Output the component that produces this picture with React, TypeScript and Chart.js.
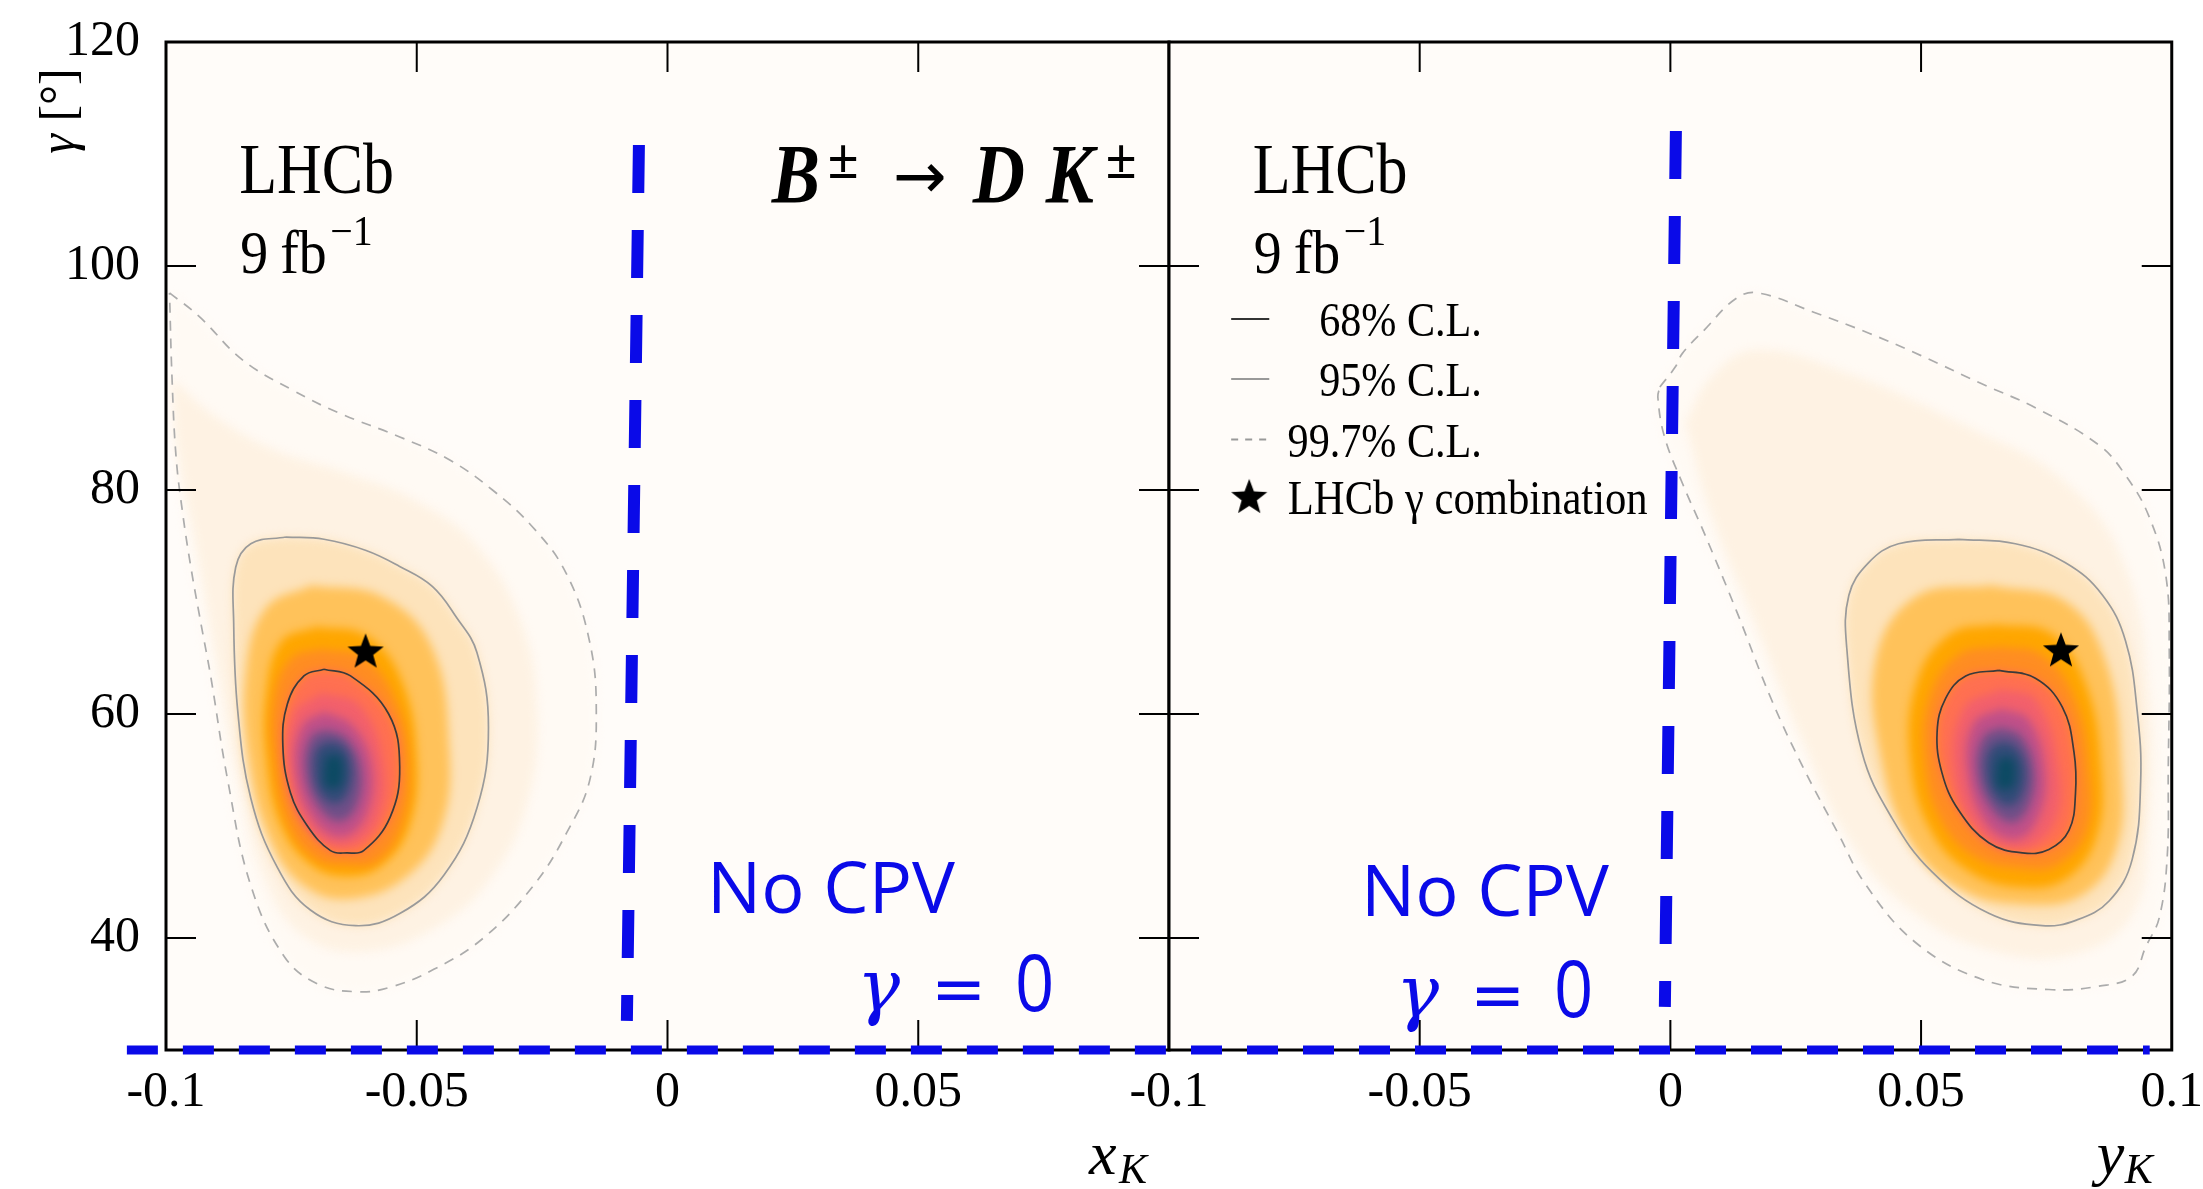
import React, { useEffect, useRef } from 'react';
import { Chart, registerables } from 'chart.js';

Chart.register(...registerables);

type Pt = [number, number];

// ---------------- data ----------------
const X_MIN = -0.1;
const X_MAX = 0.1;
const Y_MIN = 30;
const Y_MAX = 120;
const Y_TICKS = [40, 60, 80, 100, 120];
const X_TICKS_LEFT = [-0.1, -0.05, 0, 0.05];
const X_TICKS_RIGHT = [-0.1, -0.05, 0, 0.05, 0.1];
const INNER_X_TICKS = [-0.05, 0, 0.05];
const INNER_Y_TICKS = [40, 60, 80, 100];

// LHCb gamma combination (star)
const STAR_XK: Pt = [-0.0602, 65.5];
const STAR_YK: Pt = [0.0779, 65.6];

// "No CPV" / gamma = 0 reference lines
const NOCPV_XK: Pt[] = [[-0.0057, 110.8], [-0.0081, 32.6]];
const NOCPV_YK: Pt[] = [[0.0011, 112.05], [-0.0011, 33.85]];
const GAMMA0_XK: Pt[] = [[-0.1078, 30], [0.1, 30]];
const GAMMA0_YK: Pt[] = [[-0.1, 30], [0.0956, 30]];

// ---- x_K panel contours ----
const XK_CL997: Pt[] = [
  [-0.0993, 97.6], [-0.0934, 95.5], [-0.0847, 91.6], [-0.0747, 88.9], [-0.0654, 86.85], [-0.0535, 84.76],
  [-0.0435, 82.7], [-0.0349, 80.0], [-0.0269, 76.7], [-0.0202, 72.56], [-0.0156, 66.6], [-0.0142, 60.3],
  [-0.0155, 54.1], [-0.0201, 49.4], [-0.0267, 44.7], [-0.0367, 40.0], [-0.0466, 37.2], [-0.0553, 35.6],
  [-0.0619, 35.2], [-0.0698, 35.9], [-0.0765, 38.4], [-0.0831, 44.7], [-0.0877, 54.1], [-0.0911, 63.4],
  [-0.0930, 68.0], [-0.0950, 73.0], [-0.0967, 78.0], [-0.0980, 83.0], [-0.0988, 90.0], [-0.0993, 97.6],
];
const XK_BAND997: Pt[] = [
  [-0.0990, 90.0], [-0.0900, 86.5], [-0.0780, 83.5], [-0.0640, 81.5], [-0.0500, 79.0], [-0.0380, 75.0],
  [-0.0290, 68.0], [-0.0260, 60.0], [-0.0280, 52.0], [-0.0350, 45.5], [-0.0460, 41.0], [-0.0600, 38.8],
  [-0.0720, 40.0], [-0.0800, 45.0], [-0.0860, 55.0], [-0.0900, 65.0], [-0.0940, 75.0], [-0.0975, 83.0],
  [-0.0990, 90.0],
];
const XK_CL95: Pt[] = [
  [-0.0761, 75.8], [-0.0831, 75.2], [-0.0861, 73.1], [-0.0865, 68.1], [-0.0857, 60.3], [-0.0831, 52.5],
  [-0.0778, 46.3], [-0.0712, 42.5], [-0.0622, 41.1], [-0.0533, 42.2], [-0.0446, 45.6], [-0.0380, 51.6],
  [-0.0357, 58.8], [-0.0380, 65.5], [-0.0422, 68.7], [-0.0469, 71.4], [-0.0535, 73.2], [-0.0601, 74.6],
  [-0.0685, 75.6], [-0.0761, 75.8],
];
const XK_LIGHT: Pt[] = [
  [-0.0710, 71.5], [-0.0570, 70.5], [-0.0470, 66.0], [-0.0435, 57.0], [-0.0450, 50.0], [-0.0520, 45.5],
  [-0.0630, 43.5], [-0.0720, 44.5], [-0.0790, 48.5], [-0.0835, 56.0], [-0.0840, 64.0], [-0.0800, 69.5],
  [-0.0710, 71.5],
];
const XK_ORANGE: Pt[] = [
  [-0.0700, 67.8], [-0.0600, 67.0], [-0.0530, 63.0], [-0.0500, 56.0], [-0.0515, 50.0], [-0.0570, 46.5],
  [-0.0640, 45.5], [-0.0710, 46.5], [-0.0770, 50.0], [-0.0800, 56.0], [-0.0800, 62.0], [-0.0770, 66.5],
  [-0.0700, 67.8],
];
const XK_DARKORANGE: Pt[] = [
  [-0.0690, 65.8], [-0.0605, 65.0], [-0.0540, 61.0], [-0.0515, 55.5], [-0.0530, 50.0], [-0.0580, 46.8],
  [-0.0640, 46.5], [-0.0700, 47.0], [-0.0755, 50.0], [-0.0785, 56.0], [-0.0785, 61.5], [-0.0750, 65.0],
  [-0.0690, 65.8],
];
const XK_CL68: Pt[] = [
  [-0.0685, 64.0], [-0.0632, 63.4], [-0.0556, 60.0], [-0.0534, 55.3], [-0.0553, 50.8], [-0.0606, 47.8],
  [-0.0639, 47.6], [-0.0672, 47.8], [-0.0718, 50.0], [-0.0752, 53.0], [-0.0767, 57.2], [-0.0758, 60.9],
  [-0.0725, 63.4], [-0.0685, 64.0],
];
const XK_PINK: Pt[] = [
  [-0.0690, 61.9], [-0.0615, 60.8], [-0.0568, 56.0], [-0.0578, 50.5], [-0.0640, 48.2], [-0.0712, 49.5],
  [-0.0755, 54.5], [-0.0745, 60.0], [-0.0690, 61.9],
];
const XK_MAGENTA: Pt[] = [
  [-0.0685, 60.2], [-0.0628, 59.0], [-0.0590, 55.5], [-0.0600, 51.0], [-0.0648, 49.0], [-0.0705, 50.5],
  [-0.0742, 55.0], [-0.0728, 59.0], [-0.0685, 60.2],
];
const XK_PURPLE: Pt[] = [
  [-0.0678, 58.6], [-0.0640, 57.8], [-0.0612, 55.2], [-0.0620, 51.8], [-0.0655, 50.4], [-0.0697, 51.8],
  [-0.0722, 55.0], [-0.0710, 58.0], [-0.0678, 58.6],
];
const XK_BLUE: Pt[] = [
  [-0.0670, 57.6], [-0.0645, 57.0], [-0.0630, 55.0], [-0.0640, 52.8], [-0.0662, 52.0], [-0.0690, 52.8],
  [-0.0705, 55.0], [-0.0697, 57.0], [-0.0670, 57.6],
];
const XK_PEAK: Pt[] = [
  [-0.0682, 56.2], [-0.0652, 56.2], [-0.0652, 53.6], [-0.0682, 53.6], [-0.0682, 56.2],
];

// ---- y_K panel contours ----
const YK_CL997: Pt[] = [
  [-0.0021, 89.2], [0.0010, 91.0], [0.0024, 92.2], [0.0068, 94.3], [0.0131, 97.1], [0.0175, 97.6],
  [0.0290, 95.8], [0.0396, 94.0], [0.0500, 92.0], [0.0620, 89.5], [0.0730, 87.3], [0.0855, 84.0],
  [0.0908, 81.3], [0.0955, 77.6], [0.0988, 72.4], [0.0995, 65.8], [0.0993, 55.0], [0.0991, 47.3],
  [0.0975, 41.8], [0.0948, 39.2], [0.0921, 36.6], [0.0855, 35.7], [0.0755, 35.4], [0.0622, 36.3],
  [0.0489, 39.6], [0.0389, 44.8], [0.0335, 49.3], [0.0264, 55.3], [0.0202, 61.25], [0.0131, 69.3],
  [0.0068, 76.1], [0.0024, 80.6], [-0.0012, 84.8], [-0.0025, 88.3], [-0.0021, 89.2],
];
const YK_BAND997: Pt[] = [
  [0.0030, 86.0], [0.0080, 90.0], [0.0170, 92.5], [0.0350, 90.5], [0.0600, 85.5], [0.0780, 81.0],
  [0.0900, 74.0], [0.0955, 62.0], [0.0955, 50.0], [0.0920, 42.0], [0.0800, 38.5], [0.0630, 39.0],
  [0.0480, 42.5], [0.0360, 48.5], [0.0260, 58.0], [0.0170, 68.0], [0.0080, 78.0], [0.0030, 86.0],
];
const YK_CL95: Pt[] = [
  [0.0575, 75.6], [0.0688, 75.2], [0.0788, 73.5], [0.0862, 70.6], [0.0908, 66.5], [0.0931, 60.3],
  [0.0938, 54.0], [0.0921, 47.0], [0.0875, 43.3], [0.0810, 41.6], [0.0742, 41.1], [0.0635, 42.2],
  [0.0522, 45.9], [0.0442, 50.7], [0.0382, 56.6], [0.0352, 65.8], [0.0356, 70.6], [0.0395, 73.5],
  [0.0455, 75.2], [0.0575, 75.6],
];
const YK_LIGHT: Pt[] = [
  [0.0640, 71.5], [0.0790, 70.0], [0.0870, 64.5], [0.0900, 55.0], [0.0890, 48.0], [0.0820, 43.8],
  [0.0700, 43.0], [0.0580, 44.3], [0.0480, 48.5], [0.0420, 56.0], [0.0410, 65.0], [0.0490, 70.5],
  [0.0640, 71.5],
];
const YK_ORANGE: Pt[] = [
  [0.0650, 68.0], [0.0760, 67.2], [0.0830, 62.5], [0.0860, 55.0], [0.0850, 49.0], [0.0790, 45.3],
  [0.0700, 44.5], [0.0600, 45.8], [0.0520, 49.5], [0.0478, 56.0], [0.0492, 63.0], [0.0560, 67.2],
  [0.0650, 68.0],
];
const YK_DARKORANGE: Pt[] = [
  [0.0660, 66.0], [0.0740, 65.3], [0.0805, 61.5], [0.0835, 55.0], [0.0830, 49.5], [0.0770, 46.5],
  [0.0700, 46.2], [0.0610, 47.2], [0.0540, 50.5], [0.0507, 56.0], [0.0517, 61.5], [0.0575, 65.3],
  [0.0660, 66.0],
];
const YK_CL68: Pt[] = [
  [0.0655, 63.9], [0.0728, 63.2], [0.0782, 60.6], [0.0805, 56.6], [0.0808, 52.9], [0.0795, 49.6],
  [0.0755, 47.9], [0.0702, 47.6], [0.0635, 48.5], [0.0575, 51.4], [0.0542, 54.7], [0.0532, 58.4],
  [0.0549, 61.4], [0.0589, 63.4], [0.0655, 63.9],
];
const YK_PINK: Pt[] = [
  [0.0660, 62.2], [0.0730, 61.2], [0.0775, 55.0], [0.0765, 50.2], [0.0700, 48.0], [0.0615, 49.5],
  [0.0565, 55.0], [0.0585, 60.5], [0.0660, 62.2],
];
const YK_MAGENTA: Pt[] = [
  [0.0660, 60.5], [0.0715, 59.5], [0.0748, 55.0], [0.0735, 50.8], [0.0690, 48.8], [0.0630, 50.2],
  [0.0592, 55.0], [0.0605, 59.2], [0.0660, 60.5],
];
const YK_PURPLE: Pt[] = [
  [0.0660, 58.8], [0.0700, 58.0], [0.0725, 55.0], [0.0715, 51.8], [0.0682, 50.3], [0.0640, 51.6],
  [0.0612, 55.0], [0.0625, 58.0], [0.0660, 58.8],
];
const YK_BLUE: Pt[] = [
  [0.0665, 57.6], [0.0690, 57.0], [0.0708, 55.0], [0.0698, 52.6], [0.0676, 51.8], [0.0648, 52.6],
  [0.0630, 55.0], [0.0640, 57.0], [0.0665, 57.6],
];
const YK_PEAK: Pt[] = [
  [0.0653, 56.0], [0.0683, 56.0], [0.0683, 53.5], [0.0653, 53.5], [0.0653, 56.0],
];

const LEGEND_LABELS = ['68% C.L.', '95% C.L.', '99.7% C.L.', 'LHCb \u03b3 combination'];

// ---------------- styles / layout ----------------
const HEAT_COLORS = [
  '#fffaf4', '#fef2e3', '#fde3bb', '#ffc25a', '#ffa600', '#ff8d22',
  '#ff7051', '#f2606c', '#bf5089', '#6f4f88', '#314c78', '#0c4a63',
];
const BLUE = '#0a0ae8';
const SERIF = '"Liberation Serif", "Times New Roman", serif';
const SANS = '"Open Sans", "Noto Sans", sans-serif';
const PLOT_BG = '#fffcf9';
const TICK_LEN = 30;
const CANVAS_H = 1189;

interface PanelSpec {
  side: 'left' | 'right';
  levels: Pt[][];
  cl68: Pt[];
  cl95: Pt[];
  cl997: Pt[];
  star: Pt;
  vLine: Pt[];
  hLine: Pt[];
  hDashOffset: number;
  xTicks: number[];
  yAxisWidth: number;
  padRight: number;
  lhcb: Pt;
  fb: Pt;
  noCpv: Pt;
  gamma0: Pt;
}

const LEFT: PanelSpec = {
  side: 'left',
  levels: [XK_CL997, XK_BAND997, XK_CL95, XK_LIGHT, XK_ORANGE, XK_DARKORANGE, XK_CL68, XK_PINK, XK_MAGENTA, XK_PURPLE, XK_BLUE, XK_PEAK],
  cl68: XK_CL68, cl95: XK_CL95, cl997: XK_CL997, star: STAR_XK,
  vLine: NOCPV_XK, hLine: GAMMA0_XK, hDashOffset: 0,
  xTicks: X_TICKS_LEFT, yAxisWidth: 166, padRight: 21,
  lhcb: [-0.0854, 106.5], fb: [-0.0852, 99.4], noCpv: [0.0079, 42.2], gamma0: [0.0378, 33.5],
};
const RIGHT: PanelSpec = {
  side: 'right',
  levels: [YK_CL997, YK_BAND997, YK_CL95, YK_LIGHT, YK_ORANGE, YK_DARKORANGE, YK_CL68, YK_PINK, YK_MAGENTA, YK_PURPLE, YK_BLUE, YK_PEAK],
  cl68: YK_CL68, cl95: YK_CL95, cl997: YK_CL997, star: STAR_YK,
  vLine: NOCPV_YK, hLine: GAMMA0_YK, hDashOffset: 34,
  xTicks: X_TICKS_RIGHT, yAxisWidth: 69, padRight: 31,
  lhcb: [-0.0833, 106.5], fb: [-0.0831, 99.4], noCpv: [-0.0617, 42.0], gamma0: [-0.0547, 32.95],
};
const TITLE_ANCHOR: Pt = [0.0208, 105.6];
const LEGEND_ROWS = [95.27, 89.9, 84.5, 79.3];
const LEGEND_SAMPLE: Pt = [-0.0876, -0.08];
const LEGEND_TEXT_RIGHT = -0.0376;
const LEGEND_TEXT_LEFT = -0.0763;
const LEGEND_STAR_X = -0.084;

let STAR_IMG: HTMLCanvasElement | null = null;
function starImage(): HTMLCanvasElement {
  if (STAR_IMG) return STAR_IMG;
  const size = 40;
  const c = document.createElement('canvas');
  c.width = size;
  c.height = size;
  const g = c.getContext('2d')!;
  const R = 19;
  const r = R * 0.42;
  g.beginPath();
  for (let i = 0; i < 10; i++) {
    const rad = i % 2 === 0 ? R : r;
    const a = -Math.PI / 2 + (i * Math.PI) / 5;
    const px = size / 2 + rad * Math.cos(a);
    const py = size / 2 + rad * Math.sin(a);
    if (i === 0) g.moveTo(px, py);
    else g.lineTo(px, py);
  }
  g.closePath();
  g.fillStyle = '#000';
  g.fill();
  STAR_IMG = c;
  return c;
}

const toXY = (pts: Pt[]) => pts.map(([x, y]) => ({ x, y }));

function txt(
  ctx: CanvasRenderingContext2D, s: string, x: number, y: number, font: string,
  opts: { align?: CanvasTextAlign; color?: string; sx?: number } = {}
): number {
  ctx.save();
  ctx.translate(x, y);
  ctx.scale(opts.sx ?? 1, 1);
  ctx.font = font;
  ctx.fillStyle = opts.color ?? '#000';
  ctx.textAlign = opts.align ?? 'left';
  ctx.textBaseline = 'alphabetic';
  ctx.fillText(s, 0, 0);
  const w = ctx.measureText(s).width * (opts.sx ?? 1);
  ctx.restore();
  return w;
}

function drawDecor(chart: any, p: PanelSpec) {
  const ctx: CanvasRenderingContext2D = chart.ctx;
  const a = chart.chartArea;
  const X = (v: number) => chart.scales.x.getPixelForValue(v);
  const Y = (v: number) => chart.scales.y.getPixelForValue(v);
  ctx.save();
  ctx.filter = 'none';
  ctx.setLineDash([]);
  ctx.strokeStyle = '#000';
  ctx.lineWidth = 2;
  ctx.beginPath();
  for (const v of INNER_Y_TICKS) {
    const py = Y(v);
    ctx.moveTo(a.left, py); ctx.lineTo(a.left + TICK_LEN, py);
    ctx.moveTo(a.right - TICK_LEN, py); ctx.lineTo(a.right, py);
  }
  for (const v of INNER_X_TICKS) {
    const px = X(v);
    ctx.moveTo(px, a.bottom); ctx.lineTo(px, a.bottom - TICK_LEN);
    ctx.moveTo(px, a.top); ctx.lineTo(px, a.top + TICK_LEN);
  }
  ctx.stroke();
  ctx.lineWidth = 3;
  ctx.strokeRect(a.left, a.top, a.right - a.left, a.bottom - a.top);

  // LHCb label
  txt(ctx, 'LHCb', X(p.lhcb[0]), Y(p.lhcb[1]), `72px ${SERIF}`, { sx: 0.86 });
  const fx = X(p.fb[0]);
  const fy = Y(p.fb[1]);
  txt(ctx, '9', fx, fy, `62px ${SERIF}`, { sx: 0.9 });
  txt(ctx, 'fb', fx + 40, fy, `62px ${SERIF}`, { sx: 0.9 });
  txt(ctx, '\u22121', fx + 90, fy - 28, `42px ${SERIF}`, { sx: 0.95 });

  // No CPV annotation
  txt(ctx, 'No CPV', X(p.noCpv[0]), Y(p.noCpv[1]), `72px ${SANS}`, { color: BLUE });
  const gx = X(p.gamma0[0]);
  const gy = Y(p.gamma0[1]);
  txt(ctx, '\u03b3', gx, gy, `italic 72px "DejaVu Serif", serif`, { color: BLUE });
  txt(ctx, '=', gx + 74, gy, `66px "DejaVu Sans", sans-serif`, { color: BLUE });
  txt(ctx, '0', gx + 158, gy, `78px ${SANS}`, { color: BLUE, sx: 0.88 });

  // x-axis title
  const xt = p.side === 'left' ? 'x' : 'y';
  txt(ctx, xt, a.right - (p.side === 'left' ? 80 : 75), a.bottom + 124, `italic 62px ${SERIF}`);
  txt(ctx, 'K', a.right - (p.side === 'left' ? 50 : 47), a.bottom + 133, `italic 42px ${SERIF}`);

  if (p.side === 'left') {
    // y-axis title
    ctx.save();
    ctx.translate(a.left - 92, a.top + 69);
    ctx.rotate(-Math.PI / 2);
    ctx.font = `italic 50px ${SERIF}`;
    const w1 = ctx.measureText('\u03b3').width;
    ctx.font = `50px ${SERIF}`;
    const w2 = ctx.measureText(' [\u00b0]').width;
    const start = -(w1 + w2) / 2;
    ctx.fillStyle = '#000';
    ctx.textBaseline = 'alphabetic';
    ctx.font = `italic 50px ${SERIF}`;
    ctx.fillText('\u03b3', start, 0);
    ctx.font = `50px ${SERIF}`;
    ctx.fillText(' [\u00b0]', start + w1, 0);
    ctx.restore();

    // decay title
    const tx = X(TITLE_ANCHOR[0]);
    const ty = Y(TITLE_ANCHOR[1]);
    const bi = `italic bold 84px ${SERIF}`;
    txt(ctx, 'B', tx, ty, bi, { sx: 0.86 });
    txt(ctx, '\u00b1', tx + 56, ty - 25, `bold 56px ${SERIF}`);
    txt(ctx, '\u2192', tx + 121, ty - 5, `64px "DejaVu Sans", sans-serif`);
    txt(ctx, 'D', tx + 201, ty, bi, { sx: 0.86 });
    txt(ctx, 'K', tx + 274, ty, bi, { sx: 0.86 });
    txt(ctx, '\u00b1', tx + 334, ty - 25, `bold 56px ${SERIF}`);
  } else {
    // legend
    const rows = LEGEND_ROWS.map(Y);
    const x0 = X(LEGEND_SAMPLE[0]);
    const x1 = X(LEGEND_SAMPLE[1]);
    ctx.lineWidth = 2;
    ctx.strokeStyle = '#333';
    ctx.beginPath(); ctx.moveTo(x0, rows[0]); ctx.lineTo(x1, rows[0]); ctx.stroke();
    ctx.strokeStyle = '#999';
    ctx.beginPath(); ctx.moveTo(x0, rows[1]); ctx.lineTo(x1, rows[1]); ctx.stroke();
    ctx.setLineDash([7, 7]);
    ctx.beginPath(); ctx.moveTo(x0, rows[2]); ctx.lineTo(x1, rows[2]); ctx.stroke();
    ctx.setLineDash([]);
    const st = starImage();
    ctx.drawImage(st, X(LEGEND_STAR_X) - st.width / 2, rows[3] - st.height / 2);
    const lf = `49px ${SERIF}`;
    for (let i = 0; i < 3; i++) {
      txt(ctx, LEGEND_LABELS[i], X(LEGEND_TEXT_RIGHT), rows[i] + 17, lf, { align: 'right', sx: 0.86 });
    }
    txt(ctx, LEGEND_LABELS[3], X(LEGEND_TEXT_LEFT), rows[3] + 16, lf, { sx: 0.87 });
  }
  ctx.restore();
}

function makeConfig(p: PanelSpec): any {
  const heat = p.levels.map((pts, i) => ({
    data: toXY(pts),
    showLine: true,
    fill: 'shape',
    backgroundColor: HEAT_COLORS[i],
    borderColor: 'rgba(0,0,0,0)',
    borderWidth: 0,
    pointRadius: 0,
    tension: 0.4,
    order: 100 - i,
    lastHeat: i === p.levels.length - 1,
  }));
  const contour = (pts: Pt[], color: string, dash: number[], order: number) => ({
    data: toXY(pts),
    showLine: true,
    fill: false,
    borderColor: color,
    borderWidth: 1.7,
    borderDash: dash,
    pointRadius: 0,
    tension: 0.4,
    order,
  });
  const datasets: any[] = [
    ...heat,
    contour(p.cl997, '#acacac', [10, 8], 30),
    contour(p.cl95, '#9a9a9a', [], 29),
    contour(p.cl68, '#3a3a3a', [], 28),
    {
      data: toXY([p.star]),
      showLine: false,
      pointStyle: starImage(),
      pointRadius: 20,
      order: 10,
      frameAfter: true,
    },
    {
      data: toXY(p.vLine),
      showLine: true,
      fill: false,
      borderColor: BLUE,
      borderWidth: 12,
      borderDash: [48, 37],
      borderCapStyle: 'butt',
      pointRadius: 0,
      clip: false,
      order: 1,
    },
    {
      data: toXY(p.hLine),
      showLine: true,
      fill: false,
      borderColor: BLUE,
      borderWidth: 9,
      borderDash: [31, 25],
      borderDashOffset: p.hDashOffset,
      borderCapStyle: 'butt',
      pointRadius: 0,
      clip: false,
      order: 0,
    },
  ];

  const decor = {
    id: 'decor-' + p.side,
    beforeDatasetsDraw(chart: any) {
      const { ctx, chartArea: a } = chart;
      ctx.save();
      ctx.fillStyle = PLOT_BG;
      ctx.fillRect(a.left, a.top, a.right - a.left, a.bottom - a.top);
      ctx.restore();
      ctx.filter = 'blur(5px)';
    },
    afterDatasetDraw(chart: any, args: any) {
      const ds = chart.data.datasets[args.index];
      if (ds.lastHeat) chart.ctx.filter = 'none';
      if (ds.frameAfter) drawDecor(chart, p);
    },
  };

  return {
    type: 'scatter',
    data: { datasets },
    options: {
      animation: false,
      responsive: false,
      events: [],
      layout: { padding: { left: 0, right: p.padRight, top: 42, bottom: 0 } },
      plugins: { legend: { display: false }, tooltip: { enabled: false } },
      scales: {
        x: {
          type: 'linear',
          min: X_MIN,
          max: X_MAX,
          grid: { display: false, drawTicks: true, tickLength: 13 },
          border: { display: false },
          afterBuildTicks: (s: any) => { s.ticks = p.xTicks.map((v) => ({ value: v })); },
          afterFit: (s: any) => { s.height = CANVAS_H - 1050; },
          ticks: {
            autoSkip: false, maxRotation: 0, minRotation: 0, padding: 0, color: '#000',
            font: { family: SERIF, size: 50 },
            callback: (v: number) => String(v),
          },
        },
        y: {
          type: 'linear',
          min: Y_MIN,
          max: Y_MAX,
          grid: { display: false, drawTicks: true, tickLength: 26 },
          border: { display: false },
          afterBuildTicks: (s: any) => { s.ticks = Y_TICKS.map((v) => ({ value: v })); },
          afterFit: (s: any) => { s.width = p.yAxisWidth; },
          ticks: {
            display: p.side === 'left', padding: 0, color: '#000',
            font: { family: SERIF, size: 50 },
            callback: (v: number) => String(v),
          },
        },
      },
    },
    plugins: [decor],
  };
}

function Panel({ spec, left, width }: { spec: PanelSpec; left: number; width: number }) {
  const ref = useRef<HTMLCanvasElement>(null);
  useEffect(() => {
    const chart = new Chart(ref.current!, makeConfig(spec));
    return () => chart.destroy();
  }, [spec]);
  return (
    <canvas
      ref={ref}
      width={width}
      height={CANVAS_H}
      style={{ position: 'absolute', left, top: 0, width, height: CANVAS_H }}
    />
  );
}

export default function App() {
  return (
    <div style={{ position: 'fixed', left: 0, top: 0, width: 2203, height: CANVAS_H, background: '#fff', overflow: 'hidden' }}>
      <Panel spec={LEFT} left={0} width={1190} />
      <Panel spec={RIGHT} left={1100} width={1103} />
    </div>
  );
}
